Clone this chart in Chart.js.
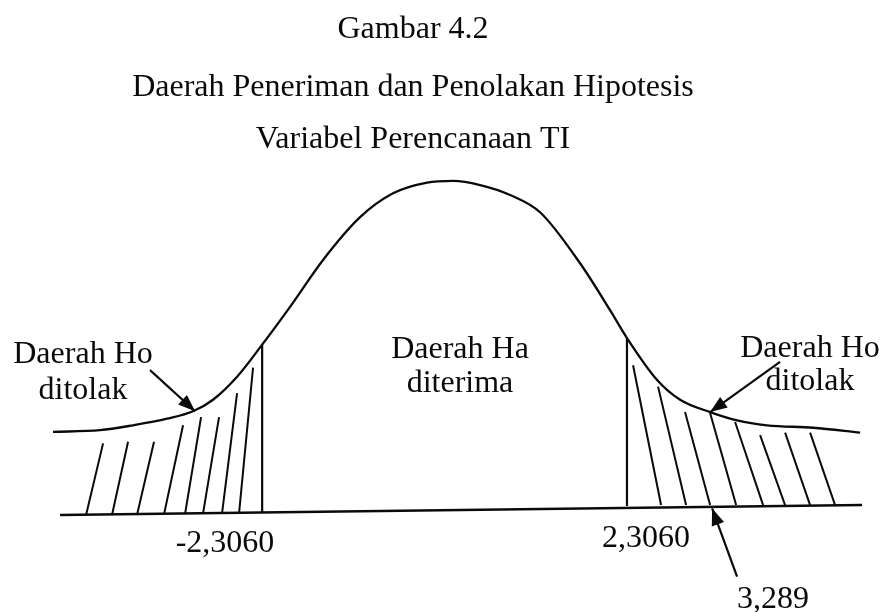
<!DOCTYPE html>
<html>
<head>
<meta charset="utf-8">
<script src="https://cdn.jsdelivr.net/npm/chart.js@4.4.1/dist/chart.umd.min.js"></script>
<style>
  html, body { margin: 0; padding: 0; background: #fff; }
  #wrap { width: 882px; height: 612px; }
</style>
</head>
<body>
<div id="wrap"><canvas id="kurvaT" width="882" height="612"></canvas></div>
<script>
// Kurva distribusi t - Daerah penerimaan dan penolakan Ho
const titleLines = ['Gambar 4.2', 'Daerah Peneriman dan Penolakan Hipotesis', 'Variabel Perencanaan TI'];
const regionLabels = [['Daerah Ho', 'ditolak'], ['Daerah Ha', 'diterima'], ['Daerah Ho', 'ditolak']];
const tickLabels = ['-2,3060', '2,3060', '3,289'];

// titik kurva
const curveX = [-4.950, -4.355, -3.938, -3.508, -3.180, -2.927, -2.623, -2.306, -1.953, -1.536, -1.068, -0.651, -0.221, 0.107,
                0.449, 0.828, 1.207, 1.713, 2.092, 2.306, 2.687, 2.978, 3.357, 3.698, 4.077, 4.659, 5.253];
const curveY = [0.095, 0.097, 0.103, 0.111, 0.120, 0.134, 0.162, 0.201, 0.247, 0.304, 0.356, 0.385, 0.398, 0.400,
                0.395, 0.383, 0.362, 0.300, 0.243, 0.209, 0.158, 0.134, 0.119, 0.109, 0.103, 0.100, 0.094];

const tCritical = [-2.306, 2.306];
const criticalTop = [0.201, 0.209];
const criticalBottom = [-0.003, 0.005];

// garis sumbu (scan sedikit miring)
const axisX = [-4.861, 5.278];
const axisY = [-0.006, 0.006];

// arsiran: [x bawah, y bawah, x atas, y atas]
const leftHatch = [
  [-4.532, -0.006, -4.317, 0.081],
  [-4.204, -0.006, -4.001, 0.083],
  [-3.888, -0.006, -3.673, 0.083],
  [-3.546, -0.005, -3.306, 0.103],
  [-3.281, -0.005, -3.078, 0.113],
  [-3.053, -0.004, -2.851, 0.113],
  [-2.813, -0.004, -2.623, 0.142],
  [-2.598, -0.004, -2.421, 0.173]
];
const rightHatch = [
  [2.737, 0.006, 2.383, 0.176],
  [3.053, 0.006, 2.699, 0.150],
  [3.357, 0.006, 3.040, 0.119],
  [3.686, 0.006, 3.357, 0.118],
  [4.027, 0.006, 3.673, 0.107],
  [4.305, 0.006, 3.989, 0.091],
  [4.621, 0.006, 4.305, 0.094],
  [4.937, 0.006, 4.621, 0.094]
];

// panah: [x ekor, y ekor, x ujung, y ujung]
const arrows = [
  [-3.723, 0.170, -3.154, 0.120],
  [4.241, 0.180, 3.357, 0.119],
  [3.698, -0.081, 3.382, 0.002]
];

function segmentsToPoints(segs) {
  const pts = [];
  segs.forEach(s => {
    pts.push({x: s[0], y: s[1]}, {x: s[2], y: s[3]}, {x: s[2], y: null});
  });
  return pts;
}

const ink = '#0a0a0a';
const serif = '"Liberation Serif", "Times New Roman", serif';

const lineSet = (data, width, extra) => Object.assign({
  data: data,
  showLine: true,
  borderColor: ink,
  borderWidth: width,
  pointRadius: 0,
  fill: false,
  spanGaps: false
}, extra || {});

const textAndArrows = {
  id: 'textAndArrows',
  afterDatasetsDraw(chart) {
    const ctx = chart.ctx;
    const xs = chart.scales.x, ys = chart.scales.y;
    ctx.save();
    ctx.fillStyle = ink;

    // ujung panah
    arrows.forEach(a => {
      const x0 = xs.getPixelForValue(a[0]), y0 = ys.getPixelForValue(a[1]);
      const x1 = xs.getPixelForValue(a[2]), y1 = ys.getPixelForValue(a[3]);
      const ang = Math.atan2(y1 - y0, x1 - x0);
      const len = 17, half = 6.5;
      ctx.beginPath();
      ctx.moveTo(x1, y1);
      ctx.lineTo(x1 - len * Math.cos(ang) + half * Math.sin(ang), y1 - len * Math.sin(ang) - half * Math.cos(ang));
      ctx.lineTo(x1 - len * Math.cos(ang) - half * Math.sin(ang), y1 - len * Math.sin(ang) + half * Math.cos(ang));
      ctx.closePath();
      ctx.fill();
    });

    ctx.font = '32px ' + serif;
    ctx.textAlign = 'center';
    ctx.textBaseline = 'alphabetic';

    const titleY = [38, 96, 148];
    titleLines.forEach((t, i) => ctx.fillText(t, 413, titleY[i]));

    const regionPos = [[83, 363, 399], [460, 358, 392], [810, 357, 390]];
    regionLabels.forEach((lines, i) => {
      ctx.fillText(lines[0], regionPos[i][0], regionPos[i][1]);
      ctx.fillText(lines[1], regionPos[i][0], regionPos[i][2]);
    });

    const tickPos = [[225, 552], [646, 547], [773, 608]];
    tickLabels.forEach((t, i) => ctx.fillText(t, tickPos[i][0], tickPos[i][1]));
    ctx.restore();
  }
};

const kurva = new Chart(document.getElementById('kurvaT').getContext('2d'), {
  type: 'scatter',
  data: {
    datasets: [
      lineSet(curveX.map((x, i) => ({x: x, y: curveY[i]})), 2.3, {cubicInterpolationMode: 'monotone'}),
      lineSet(axisX.map((x, i) => ({x: x, y: axisY[i]})), 2.6),
      lineSet(tCritical.flatMap((x, i) => [{x: x, y: criticalBottom[i]}, {x: x, y: criticalTop[i]}, {x: x, y: null}]), 2.2),
      lineSet(segmentsToPoints(leftHatch), 2),
      lineSet(segmentsToPoints(rightHatch), 2),
      lineSet(segmentsToPoints(arrows), 2.2)
    ]
  },
  options: {
    responsive: false,
    animation: false,
    layout: { padding: 0 },
    scales: {
      x: { type: 'linear', min: -5.62, max: 5.53, display: false },
      y: { type: 'linear', min: -0.124, max: 0.620, display: false }
    },
    plugins: {
      legend: { display: false },
      tooltip: { enabled: false }
    }
  },
  plugins: [textAndArrows]
});
</script>
</body>
</html>
